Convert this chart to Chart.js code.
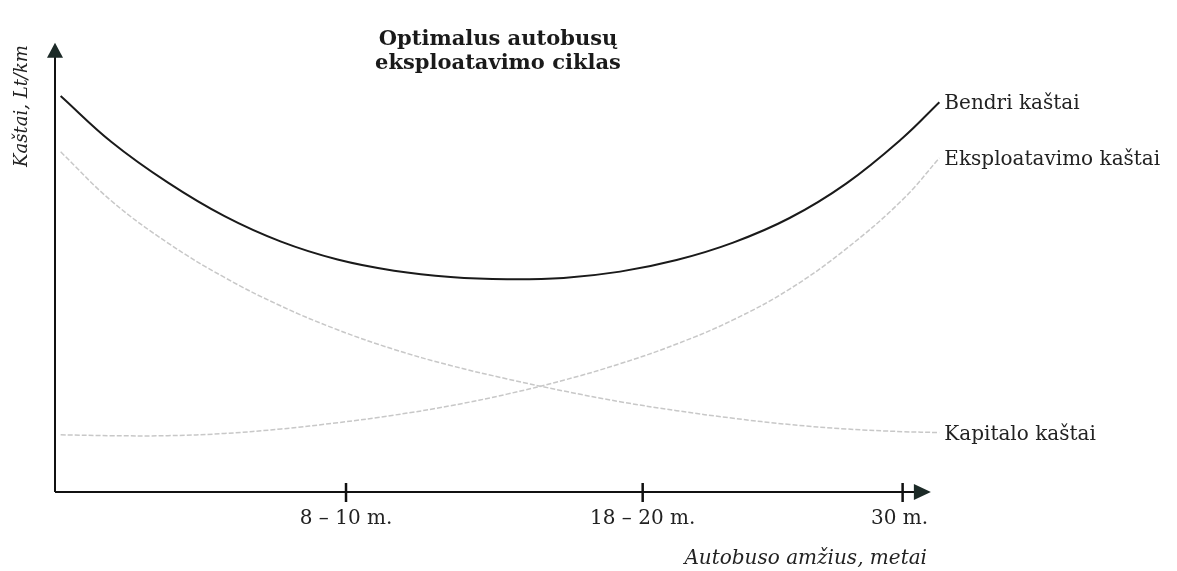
<!DOCTYPE html>
<html>
<head>
<meta charset="utf-8">
<script src="https://cdn.jsdelivr.net/npm/chart.js@4"></script>
<style>
  body{margin:0;background:#fff;}
  #wrap{width:1177px;height:571px;}
</style>
</head>
<body>
<div id="wrap"><canvas id="grafikas"></canvas></div>
<script>
// duomenys (nuskaityti nuo paveikslo, santykiniai vienetai)
const amzius = [0.2, 2, 4, 6, 8, 10, 12, 14, 16, 18, 20, 22, 24, 26, 28, 30, 31.3];
const bendriKastai = [88.6, 78.3, 69.2, 61.7, 56.0, 52.0, 49.5, 48.1, 47.6, 47.9, 49.3, 51.9, 55.8, 61.3, 69.0, 79.2, 87.2];
const eksploatavimoKastai = [12.8, 12.6, 12.6, 13.1, 14.1, 15.5, 17.2, 19.3, 21.9, 25.0, 28.7, 33.1, 38.5, 45.4, 54.4, 65.4, 74.7];
const kapitaloKastai = [76.1, 65.1, 55.7, 48.0, 41.6, 36.3, 31.9, 28.3, 25.3, 22.6, 20.2, 18.2, 16.5, 15.1, 14.1, 13.5, 13.3];
const kreiviuPavadinimai = ["Bendri kaštai", "Eksploatavimo kaštai", "Kapitalo kaštai"];

const zymePozicijos = [10.3, 20.8, 30];
const zymeTekstai = ["8 – 10 m.", "18 – 20 m.", "30 m."];

const pavadinimas = ["Optimalus autobusų", "eksploatavimo ciklas"];
const asiesYPav = "Kaštai, Lt/km";
const asiesXPav = "Autobuso amžius, metai";

function taskai(ys){
  return ys.map((y,i)=>({x:amzius[i], y:y}));
}

const serif = '"DejaVu Serif", "Liberation Serif", serif';

// asys su rodyklemis, zymes ir uzrasai
const asysPlugin = {
  id:'asys',
  afterDatasetsDraw(chart){
    const ctx = chart.ctx;
    const xs = chart.scales.x, ys = chart.scales.y;
    const x0 = xs.getPixelForValue(0), y0 = ys.getPixelForValue(0);
    const yTop = ys.getPixelForValue(100.5);
    const xEnd = xs.getPixelForValue(31.0);
    ctx.save();
    ctx.strokeStyle = '#111';
    ctx.fillStyle = '#1c2a27';
    ctx.lineWidth = 2;
    ctx.beginPath();
    ctx.moveTo(x0, y0); ctx.lineTo(x0, yTop+12);
    ctx.moveTo(x0, y0); ctx.lineTo(xEnd-16, y0);
    ctx.stroke();
    // rodykles
    ctx.beginPath();
    ctx.moveTo(x0, yTop); ctx.lineTo(x0-8, yTop+15); ctx.lineTo(x0+8, yTop+15); ctx.closePath();
    ctx.fill();
    ctx.beginPath();
    ctx.moveTo(xEnd, y0); ctx.lineTo(xEnd-17, y0-8); ctx.lineTo(xEnd-17, y0+8); ctx.closePath();
    ctx.fill();
    // zymes
    ctx.lineWidth = 2.5;
    ctx.font = '20px ' + serif;
    ctx.textAlign = 'center';
    ctx.textBaseline = 'middle';
    ctx.fillStyle = '#222';
    zymePozicijos.forEach((v,i)=>{
      const px = xs.getPixelForValue(v);
      ctx.beginPath();
      ctx.moveTo(px, y0-9); ctx.lineTo(px, y0+10);
      ctx.stroke();
      ctx.fillText(zymeTekstai[i], px - (i===2 ? 3 : 0), y0+27);
    });
    // kreiviu pavadinimai
    ctx.textAlign = 'left';
    chart.data.datasets.forEach((ds,i)=>{
      const p = ds.data[ds.data.length-1];
      ctx.fillText(kreiviuPavadinimai[i], xs.getPixelForValue(p.x)+5, ys.getPixelForValue(p.y)+2);
    });
    // asiu pavadinimai
    ctx.font = 'italic 20px ' + serif;
    ctx.textAlign = 'right';
    ctx.fillText(asiesXPav, 927, 559);
    ctx.save();
    ctx.font = 'italic 18px ' + serif;
    ctx.translate(22, 106);
    ctx.rotate(-Math.PI/2);
    ctx.textAlign = 'center';
    ctx.fillText(asiesYPav, 0, 0);
    ctx.restore();
    // pavadinimas
    ctx.font = 'bold 21px ' + serif;
    ctx.textAlign = 'center';
    ctx.fillStyle = '#1a1a1a';
    ctx.fillText(pavadinimas[0], 498, 40);
    ctx.fillText(pavadinimas[1], 498, 64);
    ctx.restore();
  }
};

new Chart(document.getElementById("grafikas"), {
  type:'line',
  data:{
    datasets:[
      {data:taskai(bendriKastai), borderColor:'#1a1a1a', borderWidth:2},
      {data:taskai(eksploatavimoKastai), borderColor:'#c8c8c8', borderWidth:1.5, borderDash:[5,2]},
      {data:taskai(kapitaloKastai), borderColor:'#c8c8c8', borderWidth:1.5, borderDash:[5,2]}
    ]
  },
  options:{
    responsive:true,
    maintainAspectRatio:false,
    animation:false,
    layout:{padding:{left:55, top:45, right:232, bottom:79}},
    elements:{
      point:{radius:0},
      line:{tension:0.4, fill:false}
    },
    clip:false,
    scales:{
      x:{type:'linear', min:0, max:31.5, display:false},
      y:{min:0, max:100, display:false}
    },
    plugins:{legend:{display:false}, tooltip:{enabled:false}}
  },
  plugins:[asysPlugin]
});
</script>
</body>
</html>
